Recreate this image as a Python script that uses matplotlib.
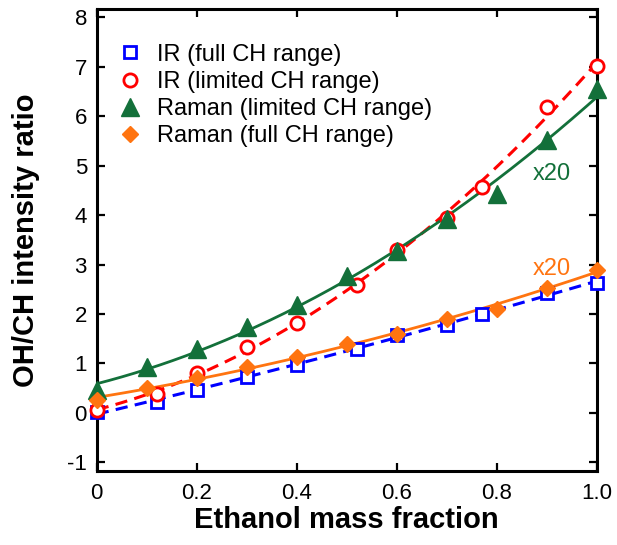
import numpy as np
import matplotlib
matplotlib.use("Agg")
import matplotlib.pyplot as plt

plt.rcParams['font.family'] = ['Liberation Sans', 'DejaVu Sans']
plt.rcParams['axes.unicode_minus'] = False

# IR measurements
ir_x = [0.0, 0.12, 0.20, 0.30, 0.40, 0.52, 0.60, 0.70, 0.77, 0.90, 1.0]
ir_full = [0.02, 0.21, 0.46, 0.73, 0.97, 1.30, 1.57, 1.78, 1.99, 2.43, 2.62]
ir_limited = [0.05, 0.39, 0.80, 1.34, 1.81, 2.59, 3.29, 3.94, 4.57, 6.19, 7.02]

# Raman measurements (scaled x20)
raman_x = [0.0, 0.1, 0.2, 0.3, 0.4, 0.5, 0.6, 0.7, 0.8, 0.9, 1.0]
raman_limited = [0.46, 0.93, 1.29, 1.74, 2.18, 2.76, 3.28, 3.93, 4.43, 5.53, 6.55]
raman_full = [0.26, 0.51, 0.70, 0.92, 1.12, 1.40, 1.59, 1.89, 2.10, 2.53, 2.90]

labels = ["IR (full CH range)", "IR (limited CH range)",
          "Raman (limited CH range)", "Raman (full CH range)"]

BLUE = "#0000FF"
RED = "#FF0000"
GREEN = "#13703A"
ORANGE = "#FF7410"

fig = plt.figure(figsize=(6.17, 5.45), dpi=100)
ax = fig.add_axes([96.7 / 617, 1 - 470.7 / 545, 500 / 617, 461.7 / 545])

xf = np.linspace(0, 1, 200)


def fit(x, y, deg=2):
    """Quadratic least-squares trend evaluated on a fine grid."""
    return np.polyval(np.polyfit(x, y, deg), xf)


# fitted trend lines
dash = (0, (4, 2.4))
ax.plot(xf, fit(ir_x, ir_full), ls=dash, color=BLUE, lw=2.2, zorder=2)
ax.plot(xf, fit(ir_x, ir_limited), ls=dash, color=RED, lw=2.2, zorder=2)
ax.plot(xf, fit(raman_x, raman_limited), color=GREEN, lw=2.0, zorder=2)
ax.plot(xf, fit(raman_x, raman_full), color=ORANGE, lw=2.0, zorder=2)

# data points
ax.plot(ir_x, ir_full, ls='none', marker='s', ms=9, mfc='white', mec=BLUE,
        mew=2.0, label=labels[0], zorder=3, clip_on=False)
ax.plot(ir_x, ir_limited, ls='none', marker='o', ms=9.5, mfc='white', mec=RED,
        mew=2.0, label=labels[1], zorder=3, clip_on=False)
ax.plot(raman_x, raman_limited, ls='none', marker='^', ms=13, color=GREEN,
        mec=GREEN, label=labels[2], zorder=4, clip_on=False)
ax.plot(raman_x, raman_full, ls='none', marker='D', ms=8.5, color=ORANGE,
        mec=ORANGE, label=labels[3], zorder=4, clip_on=False)

ax.text(0.911, 4.83, "x20", color=GREEN, fontsize=17, ha='center', va='center')
ax.text(0.911, 2.92, "x20", color=ORANGE, fontsize=17, ha='center', va='center')

ax.set_xlim(0, 1)
ax.set_ylim(-1.17, 8.17)
ax.set_xticks([0, 0.2, 0.4, 0.6, 0.8, 1.0])
ax.set_xticklabels(["0", "0.2", "0.4", "0.6", "0.8", "1.0"])
ax.set_yticks(range(-1, 9))

for s in ax.spines.values():
    s.set_linewidth(2.2)
ax.tick_params(direction='in', length=6, width=1.6, top=True, right=True,
               labelsize=16)
ax.tick_params(axis='x', pad=9)
ax.tick_params(axis='y', pad=7)

ax.set_xlabel("Ethanol mass fraction", fontsize=21, fontweight='bold')
ax.set_ylabel("OH/CH intensity ratio", fontsize=21, fontweight='bold')
ax.xaxis.set_label_coords(0.5, -0.077)
ax.yaxis.set_label_coords(-0.114, 0.5)

ax.legend(loc='upper left', bbox_to_anchor=(0.0427, 0.925), frameon=False,
          fontsize=17, numpoints=1, handlelength=1.0, handletextpad=0.63,
          labelspacing=0.22, borderpad=0, borderaxespad=0)

fig.savefig("out.png", dpi=100)
